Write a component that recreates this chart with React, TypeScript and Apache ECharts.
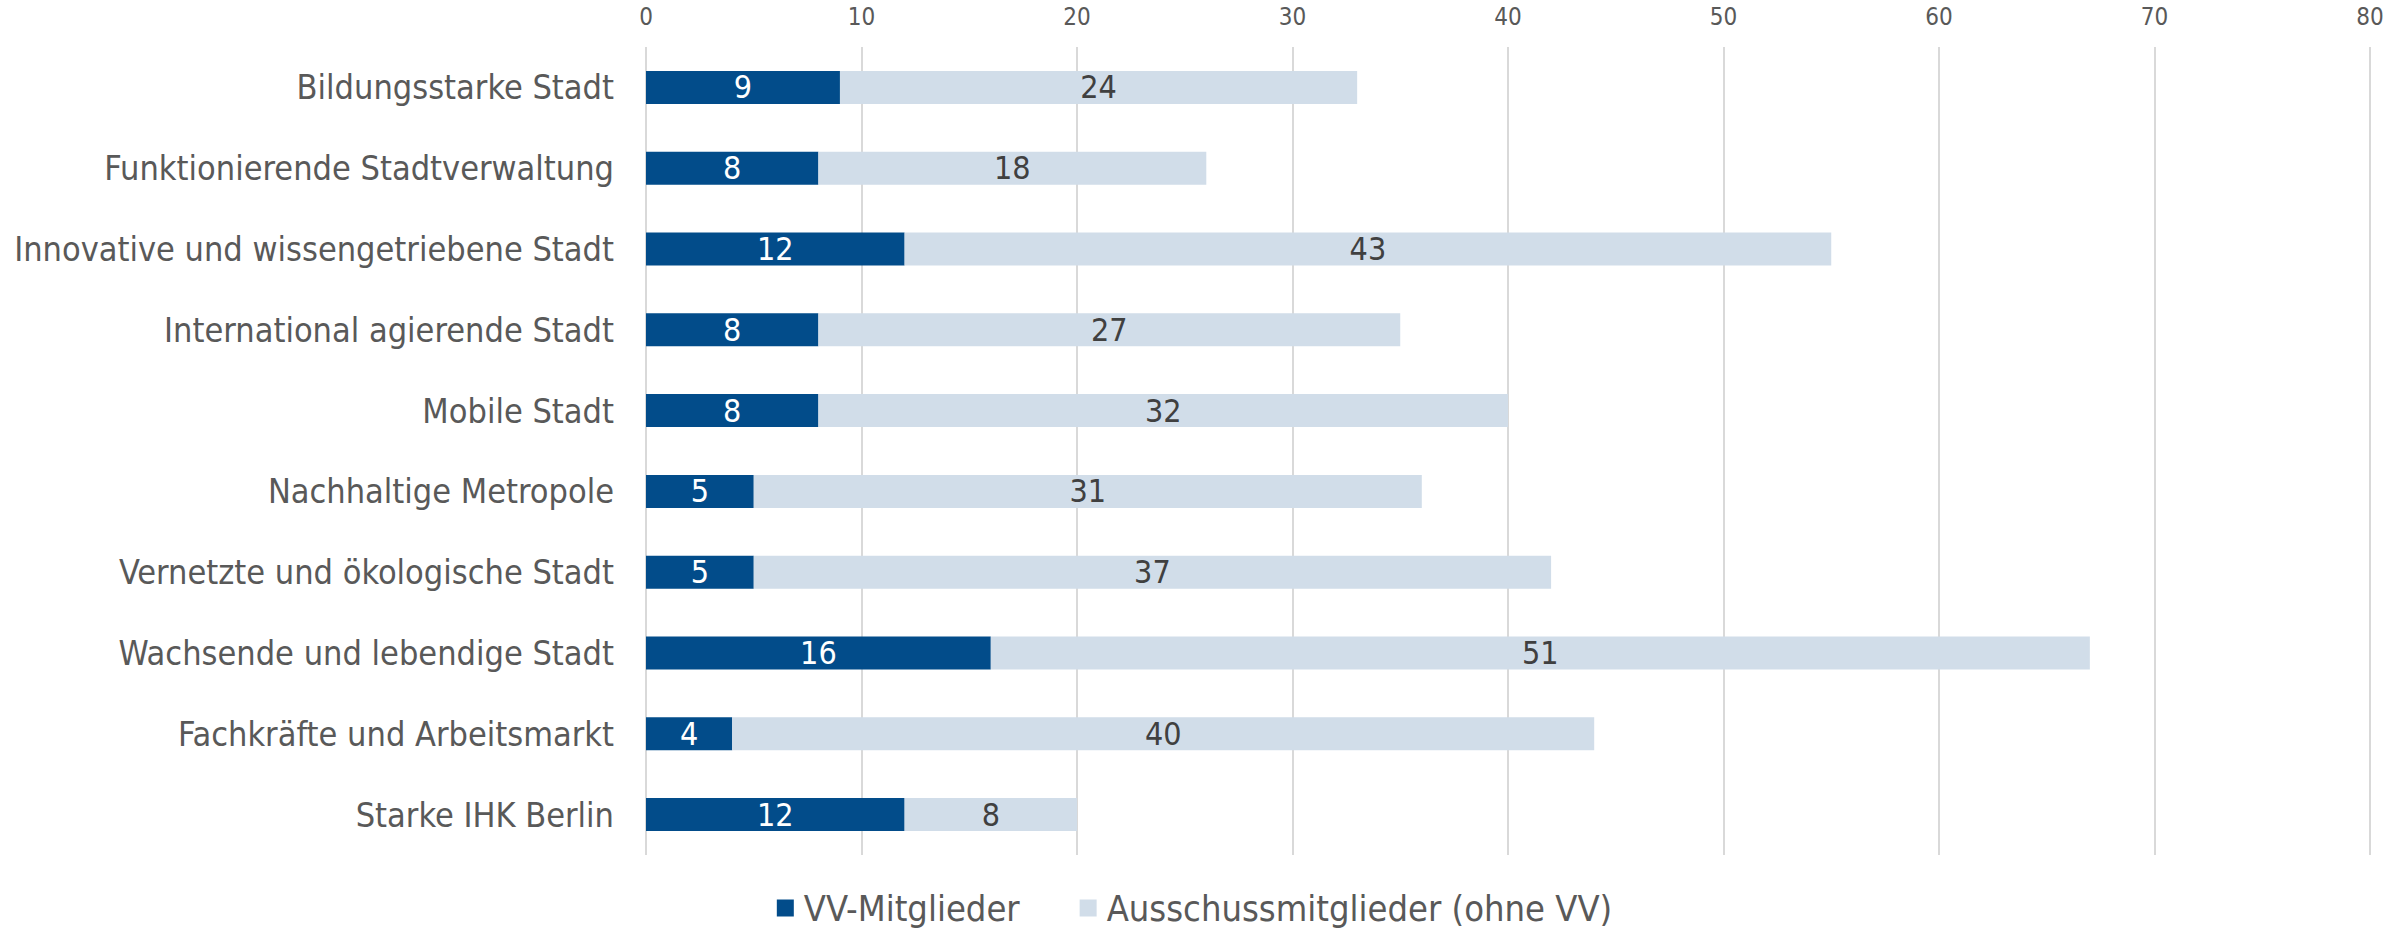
import React, { useEffect, useRef } from "react";
import * as echarts from "echarts";

const categories = [
  "Bildungsstarke Stadt",
  "Funktionierende Stadtverwaltung",
  "Innovative und wissengetriebene Stadt",
  "International agierende Stadt",
  "Mobile Stadt",
  "Nachhaltige Metropole",
  "Vernetzte und ökologische Stadt",
  "Wachsende und lebendige Stadt",
  "Fachkräfte und Arbeitsmarkt",
  "Starke IHK Berlin",
];
const vvMitglieder = [9, 8, 12, 8, 8, 5, 5, 16, 4, 12];
const ausschuss = [24, 18, 43, 27, 32, 31, 37, 51, 40, 8];
const seriesNames = ["VV-Mitglieder", "Ausschussmitglieder (ohne VV)"];

const FONT = "'DejaVu Sans Condensed', 'Liberation Sans Narrow', sans-serif";

export default function App() {
  const ref = useRef<HTMLDivElement>(null);
  useEffect(() => {
    if (!ref.current) return;
    const chart = echarts.init(ref.current, null, { renderer: "svg" });
    chart.setOption({
      animation: false,
      textStyle: { fontFamily: FONT },
      grid: { left: 646, right: 19, top: 47, bottom: 78, containLabel: false },
      legend: {
        bottom: 2,
        left: "center",
        itemWidth: 17,
        itemHeight: 17,
        itemGap: 60,
        icon: "rect",
        textStyle: { fontFamily: FONT, fontSize: 36, color: "#595959", padding: [0, 0, 0, 5] },
        data: seriesNames,
      },
      xAxis: {
        type: "value",
        position: "top",
        min: 0,
        max: 80,
        interval: 10,
        axisLine: { show: false },
        axisTick: { show: false },
        axisLabel: { fontFamily: FONT, fontSize: 24, color: "#595959", margin: 18 },
        splitLine: { show: true, lineStyle: { color: "#d9d9d9", width: 2 } },
      },
      yAxis: {
        type: "category",
        data: categories,
        inverse: true,
        axisLine: { show: false },
        axisTick: { show: false },
        axisLabel: { fontFamily: FONT, fontSize: 34, color: "#595959", margin: 32 },
      },
      series: [
        {
          name: seriesNames[0],
          type: "bar",
          stack: "total",
          data: vvMitglieder,
          barWidth: 33,
          itemStyle: { color: "#024c8a" },
          label: { show: true, position: "inside", color: "#ffffff", fontFamily: FONT, fontSize: 32 },
        },
        {
          name: seriesNames[1],
          type: "bar",
          stack: "total",
          data: ausschuss,
          barWidth: 33,
          itemStyle: { color: "#d1dde9" },
          label: { show: true, position: "inside", color: "#404040", fontFamily: FONT, fontSize: 32 },
        },
      ],
    });
    return () => chart.dispose();
  }, []);
  return (
    <div
      ref={ref}
      style={{ position: "absolute", left: 0, top: 0, width: 2389, height: 933 }}
    />
  );
}
